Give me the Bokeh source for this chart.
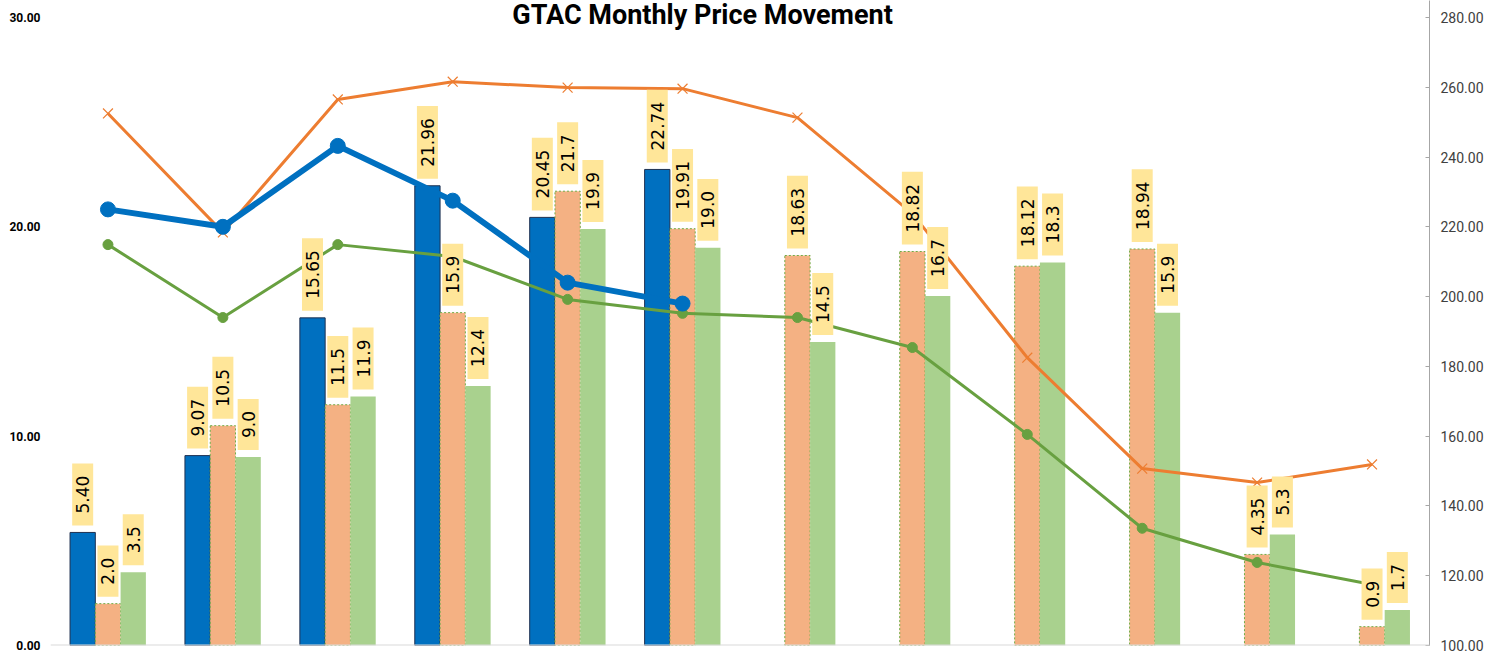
from math import pi
from bokeh.plotting import figure
from bokeh.models import (FactorRange, Range1d, LinearAxis, FixedTicker,
                          NumeralTickFormatter, ColumnDataSource, Span)
from bokeh.transform import dodge
from bokeh.core.properties import value
from bokeh.embed import file_html
from bokeh.resources import INLINE

# ---------------- data ----------------
months = ["Jan", "Feb", "Mar", "Apr", "May", "Jun",
          "Jul", "Aug", "Sep", "Oct", "Nov", "Dec"]

blue_bars = [5.40, 9.07, 15.65, 21.96, 20.45, 22.74]
blue_bar_labels = ["5.40", "9.07", "15.65", "21.96", "20.45", "22.74"]

orange_bars = [2.0, 10.5, 11.5, 15.9, 21.7, 19.91, 18.63, 18.82, 18.12, 18.94, 4.35, 0.9]
orange_bar_labels = ["2.0", "10.5", "11.5", "15.9", "21.7", "19.91",
                     "18.63", "18.82", "18.12", "18.94", "4.35", "0.9"]

green_bars = [3.5, 9.0, 11.9, 12.4, 19.9, 19.0, 14.5, 16.7, 18.3, 15.9, 5.3, 1.7]
green_bar_labels = ["3.5", "9.0", "11.9", "12.4", "19.9", "19.0",
                    "14.5", "16.7", "18.3", "15.9", "5.3", "1.7"]

# lines on the right-hand axis
orange_line = [252.5, 218.4, 256.5, 261.6, 259.9, 259.6, 251.3, 223.8, 182.5, 150.7, 146.7, 151.9]
blue_line = [225.0, 220.0, 243.2, 227.5, 204.0, 198.0]
green_line = [214.9, 194.0, 214.9, 211.5, 199.2, 195.2, 194.0, 185.4, 160.5, 133.6, 123.8, 117.5]

left_ticks = [0, 10, 20, 30]
right_ticks = [100, 120, 140, 160, 180, 200, 220, 240, 260, 280]
title_text = "GTAC Monthly Price Movement"

# ---------------- sources ----------------
src_blue = ColumnDataSource(dict(m=months[:len(blue_bars)], v=blue_bars,
                                 lbl=blue_bar_labels, ln=blue_line))
src_all = ColumnDataSource(dict(m=months, o=orange_bars, g=green_bars,
                                ol=orange_bar_labels, gl=green_bar_labels,
                                oln=orange_line, gln=green_line))

FONT = "Roboto"
Y_TOP = 30.81      # frame top (leaves room for the title above 30)
R_TOP = 284.87

p = figure(width=1486, height=656, x_range=FactorRange(*months),
           y_range=Range1d(0, Y_TOP), output_backend="svg",
           toolbar_location=None, min_border_left=50, min_border_right=56,
           min_border_top=0, min_border_bottom=11)
p.extra_y_ranges = {"right": Range1d(100, R_TOP)}
p.background_fill_color = "white"
p.border_fill_color = "white"
p.outline_line_color = None
p.xgrid.visible = False
p.ygrid.visible = False
p.xaxis.visible = False

# left axis
ax = p.yaxis[0]
ax.ticker = FixedTicker(ticks=left_ticks)
ax.formatter = NumeralTickFormatter(format="0.00")
ax.axis_line_color = None
ax.major_tick_line_color = None
ax.major_tick_out = 0
ax.major_tick_in = 0
ax.minor_tick_line_color = None
ax.minor_tick_out = 0
ax.major_label_standoff = 10
ax.major_label_text_font = FONT
ax.major_label_text_font_style = "bold"
ax.major_label_text_font_size = "12px"
ax.major_label_text_color = "#000000"

# right axis
rax = LinearAxis(y_range_name="right", ticker=FixedTicker(ticks=right_ticks),
                 formatter=NumeralTickFormatter(format="0.00"))
rax.axis_line_color = "#a6a6a6"
rax.axis_line_width = 1
rax.major_tick_line_color = "#a6a6a6"
rax.major_tick_in = 4
rax.major_tick_out = 0
rax.minor_tick_line_color = None
rax.minor_tick_out = 0
rax.major_label_standoff = 11
rax.major_label_text_font = FONT
rax.major_label_text_font_size = "14px"
rax.major_label_text_color = "#404040"
p.add_layout(rax, "right")

# baseline
p.add_layout(Span(location=0, dimension="width", line_color="#d9d9d9", line_width=2))

W = 0.22
# bars
p.vbar(x=dodge("m", -W, range=p.x_range), top="v", width=W, source=src_blue,
       fill_color="#0070C0", line_color="#1f3050", line_width=1)
p.vbar(x=dodge("m", 0, range=p.x_range), top="o", width=W, source=src_all,
       fill_color="#F4B183", line_color="#70AD47", line_width=1, line_dash="2 2")
p.vbar(x=dodge("m", W, range=p.x_range), top="g", width=W, source=src_all,
       fill_color="#A9D18E", line_color=None)

# lines
p.line(x="m", y="oln", source=src_all, y_range_name="right",
       line_color="#ED7D31", line_width=3)
p.scatter(x="m", y="oln", source=src_all, y_range_name="right", marker="x",
          size=14, line_color="#ED7D31", line_width=1.2)
p.line(x="m", y="gln", source=src_all, y_range_name="right",
       line_color="#68A040", line_width=3)
p.scatter(x="m", y="gln", source=src_all, y_range_name="right", marker="circle",
          size=10, fill_color="#68A040", line_color="#68A040")
p.line(x="m", y="ln", source=src_blue, y_range_name="right",
       line_color="#0070C0", line_width=6)
p.scatter(x="m", y="ln", source=src_blue, y_range_name="right", marker="circle",
          size=15, fill_color="#0070C0", line_color="#0070C0")

# data labels
lab_kw = dict(angle=pi / 2, text_align="left", text_baseline="middle",
              text_font=value("DejaVu Sans"), text_font_size="17px",
              text_color="#000000", background_fill_color="#FFE699",
              padding=dict(left=12, right=12, top=4, bottom=4),
              y_offset=-7)
p.text(x=dodge("m", -W, range=p.x_range), y="v", text="lbl", source=src_blue, **lab_kw)
p.text(x=dodge("m", 0, range=p.x_range), y="o", text="ol", source=src_all, **lab_kw)
p.text(x=dodge("m", W, range=p.x_range), y="g", text="gl", source=src_all, **lab_kw)

# title
p.text(x=[months[5]], y=[Y_TOP], text=[title_text], x_offset=20, y_offset=-2,
       text_align="center", text_baseline="top", text_font=value(FONT),
       text_font_style="bold", text_font_size="27px", text_color="#000000")

open("out.html", "w").write(file_html(p, INLINE))
